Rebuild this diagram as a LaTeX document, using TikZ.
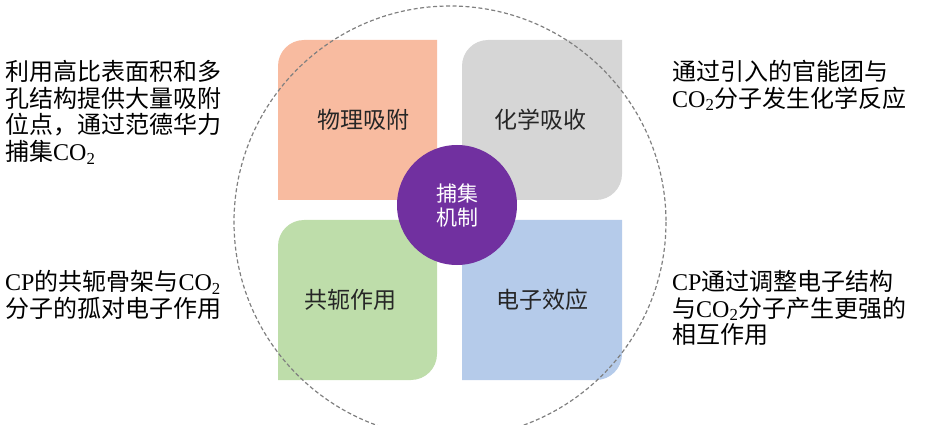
\documentclass[tikz,border=0pt]{standalone}
\usepackage{fontspec}
\setmainfont{Noto Sans CJK SC}
\newfontfamily\latinfont{Liberation Serif}
\newcommand{\cotwo}{{\latinfont CO\textsubscript{2}}}
\newcommand{\cpx}{{\latinfont CP}}
\definecolor{petalorange}{RGB}{248,187,160}
\definecolor{petalgray}{RGB}{214,214,214}
\definecolor{petalgreen}{RGB}{190,221,170}
\definecolor{petalblue}{RGB}{181,203,234}
\definecolor{corepurple}{RGB}{113,48,160}
\tikzset{
  petaltext/.style={font=\fontsize{23}{26}\selectfont,text=black!85},
  sidetext/.style={font=\fontsize{24}{26.7}\selectfont,align=left,anchor=north west,inner sep=0pt}
}
\begin{document}
\begin{tikzpicture}[x=1pt,y=-1pt]
  \useasboundingbox (0,0) rectangle (938,425);
  % petals
  \fill[petalorange] (278,200) [rounded corners=26] -- (278,40) [sharp corners] -- (437,40) -- (437,200) -- cycle;
  \fill[petalgray] (462,200) [rounded corners=26] -- (462,40) [sharp corners] -- (622,40) [rounded corners=26] -- (622,200) [sharp corners] -- cycle;
  \fill[petalgreen] (278,380) [rounded corners=26] -- (278,220) [sharp corners] -- (437,220) [rounded corners=26] -- (437,380) [sharp corners] -- cycle;
  \fill[petalblue] (462,220) -- (622,220) [rounded corners=26] -- (622,380) [sharp corners] -- (462,380) -- cycle;
  \node[petaltext] (phys) at (363,120) {物理吸附};
  \node[petaltext] (chem) at (540,120) {化学吸收};
  \node[petaltext] (conj) at (350,300) {共轭作用};
  \node[petaltext] (elec) at (542,300) {电子效应};
  % dashed outline
  \draw[gray,dash pattern=on 4pt off 2.5pt,line width=1.2pt] (450,222) circle (216);
  \node[circle,fill=corepurple,minimum size=120pt,inner sep=0pt,text=white,
        font=\fontsize{21}{24}\selectfont,align=center] (core) at (457,205) {捕集\\机制};
  % side notes
  \node[sidetext] (note1) at (5,60) {利用高比表面积和多\\孔结构提供大量吸附\\位点，通过范德华力\\捕集\cotwo};
  \node[sidetext] (note2) at (672,60) {通过引入的官能团与\\\cotwo 分子发生化学反应};
  \node[sidetext] (note3) at (5,270) {\cpx 的共轭骨架与\cotwo\\分子的孤对电子作用};
  \node[sidetext] (note4) at (672,270) {\cpx 通过调整电子结构\\与\cotwo 分子产生更强的\\相互作用};
\end{tikzpicture}
\end{document}
